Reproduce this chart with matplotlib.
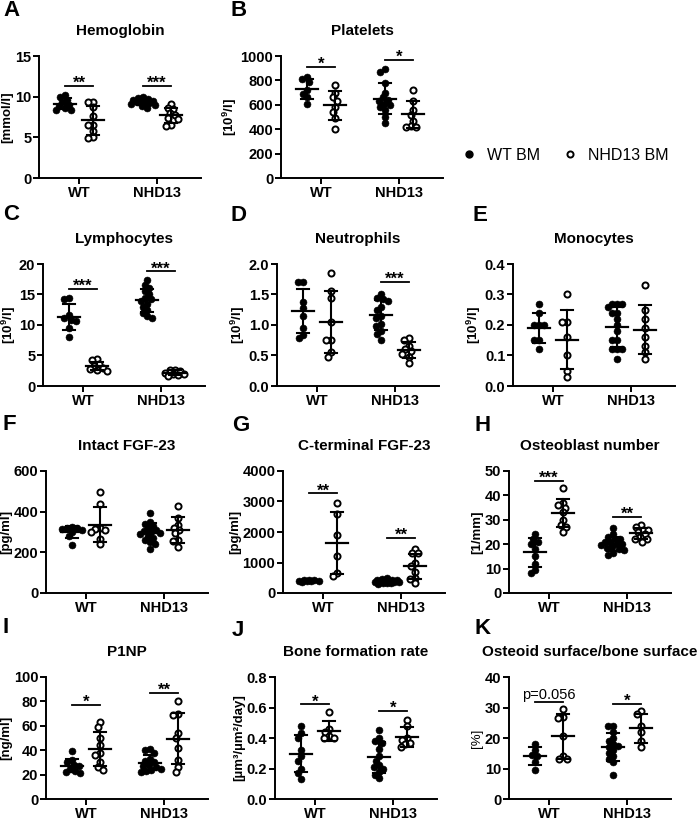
import numpy as np
import matplotlib.pyplot as plt
from matplotlib.lines import Line2D
from matplotlib.ticker import FormatStrFormatter

plt.rcParams['font.family'] = 'Liberation Sans'
plt.rcParams['font.weight'] = 'bold'
plt.rcParams['mathtext.fontset'] = 'custom'
plt.rcParams['mathtext.rm'] = 'Liberation Sans'
plt.rcParams['mathtext.bf'] = 'Liberation Sans:bold'

groups = ['WT', 'NHD13']

# A hemoglobin
hgb_wt_wtbm = [10.2, 9.9, 9.6, 9.3, 9.0, 8.8, 8.6, 8.4, 8.3]
hgb_wt_nhdbm = [9.4, 9.3, 8.7, 7.6, 6.5, 6.5, 5.8, 5.0, 4.9]
hgb_nhd_wtbm = [9.9, 9.8, 9.7, 9.6, 9.5, 9.4, 9.3, 9.3, 9.2, 9.1, 9.0, 8.8, 8.6]
hgb_nhd_nhdbm = [9.1, 8.6, 8.5, 8.0, 7.7, 7.4, 7.2, 6.5, 6.4]
hgb_sig = ['**', '***']
hgb_sig_y = [11.3, 11.3]

# B platelets
plat_wt_wtbm = [830, 815, 790, 720, 690, 660, 610]
plat_wt_nhdbm = [760, 700, 660, 630, 580, 540, 490, 400]
plat_nhd_wtbm = [890, 870, 780, 700, 660, 640, 630, 610, 600, 580, 560, 500, 450]
plat_nhd_nhdbm = [725, 630, 560, 520, 470, 430, 420, 420]
plat_sig = ['*', '*']
plat_sig_y = [911, 967]

# C lymphocytes
lym_wt_wtbm = [14.5, 14.2, 11.6, 11.2, 10.8, 10.6, 9.5, 8.0]
lym_wt_nhdbm = [4.4, 4.2, 3.6, 3.3, 3.0, 2.8, 2.6, 2.5]
lym_nhd_wtbm = [17.3, 16.5, 16.0, 15.5, 15.0, 14.5, 14.2, 14.0, 13.5, 13.0, 12.5, 12.0, 11.5, 11.2]
lym_nhd_nhdbm = [2.7, 2.6, 2.5, 2.2, 2.0, 1.9, 1.8, 1.7]
lym_sig = ['***', '***']
lym_sig_y = [15.9, 18.8]

# D neutrophils
neu_wt_wtbm = [1.71, 1.71, 1.38, 1.28, 1.15, 0.95, 0.84, 0.78]
neu_wt_nhdbm = [1.86, 1.55, 1.45, 1.05, 0.75, 0.75, 0.55, 0.48]
neu_nhd_wtbm = [1.50, 1.45, 1.42, 1.40, 1.30, 1.25, 1.15, 1.12, 1.02, 0.98, 0.90, 0.85, 0.76]
neu_nhd_nhdbm = [0.78, 0.75, 0.65, 0.60, 0.57, 0.53, 0.48, 0.37]
neu_sig = [None, '***']
neu_sig_y = [None, 1.71]

# E monocytes
mono_wt_wtbm = [0.27, 0.24, 0.20, 0.20, 0.20, 0.15, 0.15, 0.12]
mono_wt_nhdbm = [0.30, 0.21, 0.21, 0.16, 0.10, 0.05, 0.03]
mono_nhd_wtbm = [0.27, 0.27, 0.27, 0.26, 0.24, 0.24, 0.22, 0.20, 0.18, 0.15, 0.15, 0.12, 0.12, 0.12, 0.09]
mono_nhd_nhdbm = [0.33, 0.25, 0.22, 0.19, 0.16, 0.13, 0.11, 0.09]
mono_sig = [None, None]
mono_sig_y = [None, None]

# F intact FGF-23
ifgf_wt_wtbm = [325, 322, 318, 315, 310, 300, 280, 237]
ifgf_wt_nhdbm = [495, 440, 320, 315, 310, 300, 265, 240]
ifgf_nhd_wtbm = [395, 350, 340, 330, 320, 310, 305, 300, 295, 290, 280, 270, 260, 250, 240, 218]
ifgf_nhd_nhdbm = [430, 370, 335, 320, 310, 295, 260, 255, 225]
ifgf_sig = [None, None]
ifgf_sig_y = [None, None]

# G C-terminal FGF-23
cfgf_wt_wtbm = [440, 420, 410, 400, 390, 385, 380, 370]
cfgf_wt_nhdbm = [2950, 2580, 1900, 1200, 650, 550]
cfgf_nhd_wtbm = [480, 460, 440, 420, 410, 400, 390, 380, 370, 360, 350, 340, 330, 320, 310]
cfgf_nhd_nhdbm = [1450, 1300, 1300, 1000, 900, 700, 500, 450, 320]
cfgf_sig = ['**', '**']
cfgf_sig_y = [3270, 1800]

# H osteoblast number
obn_wt_wtbm = [24, 22, 21, 20, 18, 15, 12, 9.5, 8]
obn_wt_nhdbm = [43, 37, 36, 35, 33, 30, 28, 27, 25]
obn_nhd_wtbm = [26.5, 24, 23, 22, 22, 21, 21, 20, 20, 19.5, 19, 18.5, 18, 17.5, 16.5, 15.5]
obn_nhd_nhdbm = [28, 27, 26, 26, 25, 24, 23, 22, 22, 21]
obn_sig = ['***', '**']
obn_sig_y = [45.9, 31.1]

# I P1NP
p1np_wt_wtbm = [39, 32, 30, 28, 27, 25, 23, 22, 21]
p1np_wt_nhdbm = [63, 59, 50, 44, 38, 36, 30, 26, 24]
p1np_nhd_wtbm = [41, 40, 38, 33, 31, 30, 28, 27, 26, 25, 24, 23, 22]
p1np_nhd_nhdbm = [80, 70, 69, 54, 50, 42, 32, 26, 22]
p1np_sig = ['*', '**']
p1np_sig_y = [77.4, 87.2]

# J bone formation rate
bfr_wt_wtbm = [0.48, 0.43, 0.40, 0.32, 0.28, 0.25, 0.20, 0.17, 0.13]
bfr_wt_nhdbm = [0.57, 0.46, 0.44, 0.41, 0.40, 0.40]
bfr_nhd_wtbm = [0.45, 0.40, 0.38, 0.37, 0.33, 0.28, 0.25, 0.22, 0.21, 0.20, 0.18, 0.16, 0.14]
bfr_nhd_nhdbm = [0.52, 0.48, 0.40, 0.39, 0.37, 0.36, 0.34]
bfr_sig = ['*', '*']
bfr_sig_y = [0.62, 0.578]

# K osteoid surface / bone surface
os_wt_wtbm = [18, 16, 14.5, 14, 12, 9.5]
os_wt_nhdbm = [29.5, 27, 26.5, 20.5, 14, 13, 13]
os_nhd_wtbm = [24, 24, 22, 20, 19, 18, 17.5, 17, 16, 15, 14, 13, 12, 8]
os_nhd_nhdbm = [29, 28, 24, 22, 19, 17]
os_sig = ['p=0.056', '*']
os_sig_y = [31.8, 31.3]

letters = ['A', 'B', 'C', 'D', 'E', 'F', 'G', 'H', 'I', 'J', 'K']
titles = ['Hemoglobin', 'Platelets', 'Lymphocytes', 'Neutrophils', 'Monocytes',
          'Intact FGF-23', 'C-terminal FGF-23', 'Osteoblast number', 'P1NP',
          'Bone formation rate', 'Osteoid surface/bone surface']
ylabels = ['[mmol/l]', r'[10$^{\mathbf{9}}$/l]', r'[10$^{\mathbf{9}}$/l]', r'[10$^{\mathbf{9}}$/l]',
           r'[10$^{\mathbf{9}}$/l]', '[pg/ml]', '[pg/ml]', '[1/mm]', '[ng/ml]',
           '[µm³/µm²/day]', '[%]']
ymaxes = [15, 1000, 20, 2.0, 0.4, 600, 4000, 50, 100, 0.8, 40]
ysteps = [5, 200, 5, 0.5, 0.1, 200, 1000, 10, 20, 0.2, 10]

panels = [
    (hgb_wt_wtbm, hgb_wt_nhdbm, hgb_nhd_wtbm, hgb_nhd_nhdbm, hgb_sig, hgb_sig_y),
    (plat_wt_wtbm, plat_wt_nhdbm, plat_nhd_wtbm, plat_nhd_nhdbm, plat_sig, plat_sig_y),
    (lym_wt_wtbm, lym_wt_nhdbm, lym_nhd_wtbm, lym_nhd_nhdbm, lym_sig, lym_sig_y),
    (neu_wt_wtbm, neu_wt_nhdbm, neu_nhd_wtbm, neu_nhd_nhdbm, neu_sig, neu_sig_y),
    (mono_wt_wtbm, mono_wt_nhdbm, mono_nhd_wtbm, mono_nhd_nhdbm, mono_sig, mono_sig_y),
    (ifgf_wt_wtbm, ifgf_wt_nhdbm, ifgf_nhd_wtbm, ifgf_nhd_nhdbm, ifgf_sig, ifgf_sig_y),
    (cfgf_wt_wtbm, cfgf_wt_nhdbm, cfgf_nhd_wtbm, cfgf_nhd_nhdbm, cfgf_sig, cfgf_sig_y),
    (obn_wt_wtbm, obn_wt_nhdbm, obn_nhd_wtbm, obn_nhd_nhdbm, obn_sig, obn_sig_y),
    (p1np_wt_wtbm, p1np_wt_nhdbm, p1np_nhd_wtbm, p1np_nhd_nhdbm, p1np_sig, p1np_sig_y),
    (bfr_wt_wtbm, bfr_wt_nhdbm, bfr_nhd_wtbm, bfr_nhd_nhdbm, bfr_sig, bfr_sig_y),
    (os_wt_wtbm, os_wt_nhdbm, os_nhd_wtbm, os_nhd_nhdbm, os_sig, os_sig_y),
]

# layout in pixels
W, H = 700, 821
AX_W, AX_H = 162, 122
PX_UNIT = 78.0
lefts = [39, 281, 43, 277, 513, 46, 283, 509, 46, 275, 509]
tops = [56, 56, 264, 264, 264, 471, 471, 471, 677, 677, 677]
letter_pos = [(3, 10), (231, 10), (3, 214), (231, 215), (473, 215), (3, 424),
              (232, 425), (474, 425), (3, 627), (232, 630), (474, 628)]
OFF = 0.18


def swarm(vals, ymax, d=5.0, maxoff=12):
    # simple beeswarm: spread overlapping points sideways (pixel space)
    py = np.asarray(vals, float) / ymax * AX_H
    offs = np.zeros(len(py))
    cand = sorted(np.arange(-maxoff, maxoff + 1) * 1.0, key=lambda c: (abs(c), c))
    placed = []
    for i in np.argsort(-py):
        best, best_gap = 0.0, -1
        for c in cand:
            gap = min([np.hypot(c - offs[j], py[i] - py[j]) for j in placed] or [99])
            if gap >= d:
                best = c
                break
            if gap > best_gap:
                best, best_gap = c, gap
        offs[i] = best
        placed.append(i)
    return offs / PX_UNIT


fig = plt.figure(figsize=(7, 8.21), dpi=100)

for k, (a, b, c, dd, sig, sig_y) in enumerate(panels):
    left, top = lefts[k], tops[k]
    ax = fig.add_axes([left / W, 1 - (top + AX_H) / H, AX_W / W, AX_H / H])
    ymax = ymaxes[k]
    for gi, (filled, opn) in enumerate([(a, b), (c, dd)]):
        for vals, dx, is_open in [(filled, -OFF, False), (opn, OFF, True)]:
            xc = gi + 1 + dx
            offs = swarm(vals, ymax)
            if is_open:
                ax.plot(xc + offs, vals, 'o', ms=4.4, mfc='white', mec='black', mew=1.4,
                        clip_on=False, zorder=2)
            else:
                ax.plot(xc + offs, vals, 'o', ms=5.0, mfc='black', mec='black', mew=0.4,
                        clip_on=False, zorder=2)
            m = np.mean(vals)
            s = np.std(vals, ddof=1)
            ax.plot([xc - 0.14, xc + 0.14], [m, m], color='black', lw=1.6, zorder=3)
            ax.plot([xc, xc], [m - s, m + s], color='black', lw=1.5, zorder=3)
            for yy in (m - s, m + s):
                ax.plot([xc - 0.08, xc + 0.08], [yy, yy], color='black', lw=1.5, zorder=3)
        if sig[gi] is not None:
            x0, x1 = gi + 1 - OFF, gi + 1 + OFF
            ax.plot([x0, x1], [sig_y[gi], sig_y[gi]], color='black', lw=1.3, clip_on=False)
            if sig[gi].startswith('p'):
                ax.annotate(sig[gi], (gi + 1, sig_y[gi]), xytext=(0, 2), textcoords='offset points',
                            ha='center', va='baseline', fontsize=10.5, fontweight='normal')
            else:
                ax.annotate(sig[gi], (gi + 1, sig_y[gi]), xytext=(0, -1.5), textcoords='offset points',
                            ha='center', va='baseline', fontsize=12, fontweight='bold')

    ax.set_xlim(1 - 40 / PX_UNIT, 1 + (AX_W - 40) / PX_UNIT)
    ax.set_ylim(0, ymax)
    ax.set_xticks([1, 2])
    ax.set_xticklabels(groups)
    ax.set_yticks(np.arange(0, ymax + ysteps[k] / 2, ysteps[k]))
    if ymax < 5:
        ax.yaxis.set_major_formatter(FormatStrFormatter('%.1f'))
    else:
        ax.yaxis.set_major_formatter(FormatStrFormatter('%d'))
    for sp in ['top', 'right']:
        ax.spines[sp].set_visible(False)
    for sp in ['left', 'bottom']:
        ax.spines[sp].set_linewidth(1.4)
    ax.tick_params(width=1.4, length=4, labelsize=10.5, pad=1.5)
    ax.set_title(titles[k], fontsize=11, fontweight='bold', pad=15)
    ax.set_ylabel(ylabels[k], fontsize=9.5, labelpad=1,
                  fontweight='normal' if k == 10 else 'bold')
    lx, ly = letter_pos[k]
    fig.text(lx / W, 1 - ly / H, letters[k], fontsize=16, fontweight='bold', ha='left', va='center')

handles = [Line2D([], [], ls='none', marker='o', ms=5.0, mfc='black', mec='black'),
           Line2D([], [], ls='none', marker='o', ms=4.4, mfc='white', mec='black', mew=1.4)]
fig.legend(handles, ['WT BM', 'NHD13 BM'], ncol=2, frameon=False, loc='center',
           bbox_to_anchor=(565 / W, 1 - 155 / H), prop={'size': 11.5, 'weight': 'normal'},
           handlelength=1.0, handletextpad=0.6, columnspacing=1.4)

fig.savefig('out.png', dpi=100)
